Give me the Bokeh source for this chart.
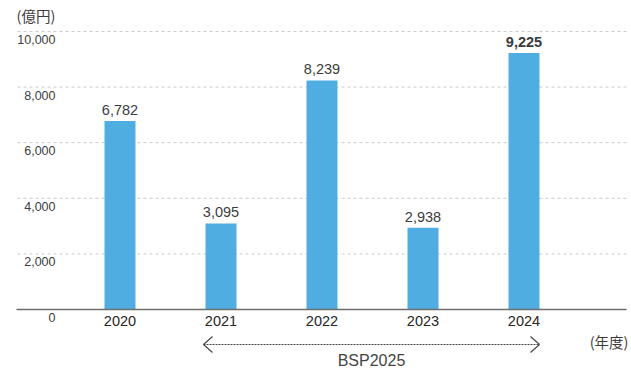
from bokeh.plotting import figure
from bokeh.models import ColumnDataSource, Range1d
from bokeh.core.properties import value
from bokeh.embed import file_html
from bokeh.resources import INLINE

# ---- data ----
years = ["2020", "2021", "2022", "2023", "2024"]
amounts = [6782, 3095, 8239, 2938, 9225]
label_styles = ["normal", "normal", "normal", "normal", "bold"]
y_ticks = [0, 2000, 4000, 6000, 8000, 10000]
unit_label = "(億円)"
year_unit_label = "(年度)"
period_label = "BSP2025"
period_first, period_last = 1, 4   # indices of years covered by BSP2025

# ---- layout (pixels) ----
W, H = 631, 376
X0_PX, DX = 119.5, 101.0          # first bar centre, bar spacing
BASE_PX, PX_PER_UNIT = 309.0, 278.0 / 10000.0

x_start = -X0_PX / DX
x_end = x_start + W / DX
y_start = -(H - BASE_PX) / PX_PER_UNIT
y_end = y_start + H / PX_PER_UNIT

def xd(px):
    return x_start + px / DX

def yd(py):
    return y_start + (H - py) / PX_PER_UNIT

FONT = value("Liberation Sans")
CJK = value("Noto Sans CJK JP")
TXT = "#3c3c3c"

p = figure(width=W, height=H, output_backend="svg", toolbar_location=None,
           x_range=Range1d(x_start, x_end), y_range=Range1d(y_start, y_end),
           min_border=0, outline_line_color=None)
p.axis.visible = False
p.grid.visible = False
p.background_fill_color = "white"
p.border_fill_color = "white"

idx = list(range(len(years)))
src = ColumnDataSource(dict(
    x=idx, top=amounts, year=years,
    lab=[f"{v:,}" for v in amounts], style=label_styles))

# gridlines
grid_y = [t for t in y_ticks if t > 0]
p.segment(x0=[xd(17)] * len(grid_y), x1=[xd(627)] * len(grid_y), y0=grid_y, y1=grid_y,
          line_color="#cccccc", line_width=1, line_dash="3 3")

# bars
p.vbar(x="x", top="top", bottom=0, width=31 / DX, source=src,
       fill_color="#4FADE2", line_color=None)

# baseline
p.segment(x0=[xd(16)], x1=[xd(626)], y0=[0], y1=[0], line_color="#6e6e6e", line_width=1.5)

# y tick labels (below the gridlines)
p.text(x=[xd(55)] * len(y_ticks), y=y_ticks, text=[f"{t:,}" for t in y_ticks],
       text_align="right", text_baseline="middle", y_offset=8,
       text_font=FONT, text_font_size="12.5px", text_color=TXT)

# value labels
p.text(x="x", y="top", text="lab", source=src, text_align="center",
       text_baseline="middle", y_offset=-11, text_font=FONT,
       text_font_size="14.5px", text_font_style="style", text_color=TXT)

# year labels
p.text(x="x", y=yd(320), text="year", source=src,
       text_align="center", text_baseline="middle", text_font=FONT,
       text_font_size="14.5px", text_color="#262626")

# unit labels
p.text(x=[xd(16)], y=[yd(15)], text=[unit_label], text_align="left",
       text_baseline="middle", text_font=CJK, text_font_size="14.5px", text_color=TXT)
p.text(x=[xd(628)], y=[yd(341)], text=[year_unit_label], text_align="right",
       text_baseline="middle", text_font=CJK, text_font_size="14.5px", text_color=TXT)

# BSP2025 period arrow
ay = yd(344)
ax0 = period_first - 17.5 / DX
ax1 = period_last + 15.5 / DX
p.segment(x0=[ax0], x1=[ax1], y0=[ay], y1=[ay], line_color="#444444",
          line_width=1, line_dash="2 1")
hd, hh = 9 / DX, 8 * (1 / PX_PER_UNIT)
p.segment(x0=[ax0, ax0, ax1, ax1], y0=[ay] * 4,
          x1=[ax0 + hd, ax0 + hd, ax1 - hd, ax1 - hd],
          y1=[ay + hh, ay - hh, ay + hh, ay - hh],
          line_color="#444444", line_width=1.2)
p.text(x=[(ax0 + ax1) / 2], y=[yd(360)], text=[period_label], text_align="center",
       text_baseline="middle", text_font=FONT, text_font_size="16px", text_color="#444444")

open("out.html", "w").write(file_html(p, INLINE))
